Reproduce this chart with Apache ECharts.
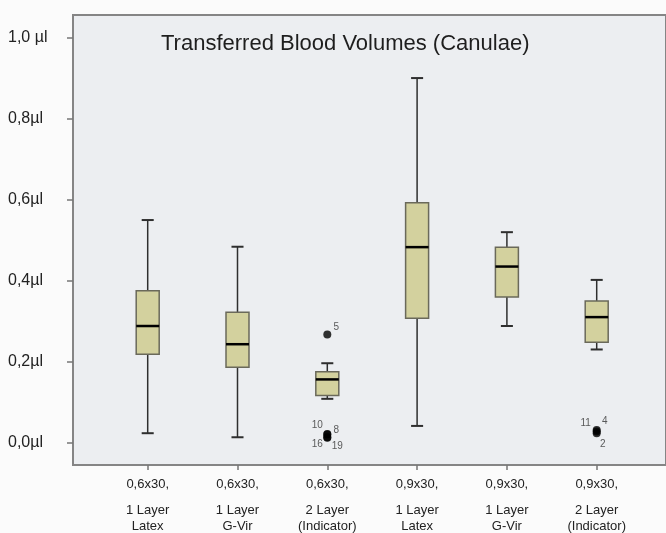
<!DOCTYPE html>
<html>
<head>
<meta charset="utf-8">
<script src="https://cdn.jsdelivr.net/npm/echarts@6/dist/echarts.min.js"></script>
<style>
  html, body { margin: 0; padding: 0; background: #fbfbfb; }
  #main { width: 666px; height: 533px; }
</style>
</head>
<body>
<div id="main"></div>
<script>
// categories (three text lines under each box)
const catLine1 = ['0,6x30,', '0,6x30,', '0,6x30,', '0,9x30,', '0,9x30,', '0,9x30,'];
const catLine2 = ['1 Layer', '1 Layer', '2 Layer', '1 Layer', '1 Layer', '2 Layer'];
const catLine3 = ['Latex', 'G-Vir', '(Indicator)', 'Latex', 'G-Vir', '(Indicator)'];

// box statistics (µl)
const whiskerLow  = [0.023, 0.013, 0.108, 0.041, 0.288, 0.230];
const q1          = [0.218, 0.186, 0.116, 0.307, 0.360, 0.248];
const median      = [0.288, 0.243, 0.156, 0.483, 0.435, 0.310];
const q3          = [0.375, 0.322, 0.175, 0.593, 0.483, 0.350];
const whiskerHigh = [0.550, 0.484, 0.196, 0.901, 0.520, 0.402];

// outliers
const outlierCat = [2, 2, 2, 2, 2, 5, 5, 5];
const outlierVal = [0.267, 0.021, 0.020, 0.013, 0.012, 0.031, 0.027, 0.023];
const outlierId  = ['5', '10', '8', '16', '19', '11', '4', '2'];

// y ticks
const yTicks = [0, 0.2, 0.4, 0.6, 0.8, 1.0];
const yTickLabels = ['0,0µl', '0,2µl', '0,4µl', '0,6µl', '0,8µl', '1,0 µl'];

// where each outlier number sits next to its dot
const idOffset = {
  '5': [9, -7], '10': [-10, -9], '8': [9, -4], '16': [-10, 7], '19': [10, 9],
  '11': [-11, -7], '4': [8, -10], '2': [6, 11]
};

const yMin = -0.0556, yMax = 1.0569;
const font = '"Liberation Sans", Arial, sans-serif';

const boxData = catLine1.map(function (c, i) {
  return [i, whiskerLow[i], q1[i], median[i], q3[i], whiskerHigh[i]];
});

const outlierData = outlierVal.map(function (v, i) {
  const off = idOffset[outlierId[i]];
  return {
    value: [outlierCat[i], v],
    name: outlierId[i],
    label: { offset: off }
  };
});

function renderBox(params, api) {
  const idx = api.value(0);
  const band = api.size([1, 0])[0];
  const hw = band * 0.128;
  const cw = band * 0.067;
  const pLow = api.coord([idx, api.value(1)]);
  const pQ1 = api.coord([idx, api.value(2)]);
  const pMed = api.coord([idx, api.value(3)]);
  const pQ3 = api.coord([idx, api.value(4)]);
  const pHigh = api.coord([idx, api.value(5)]);
  const x = pQ1[0];
  const wStyle = { stroke: '#2e2e2e', lineWidth: 1.5 };
  return {
    type: 'group',
    children: [
      { type: 'line', shape: { x1: x, y1: pHigh[1], x2: x, y2: pQ3[1] }, style: wStyle },
      { type: 'line', shape: { x1: x, y1: pQ1[1], x2: x, y2: pLow[1] }, style: wStyle },
      { type: 'line', shape: { x1: x - cw, y1: pHigh[1], x2: x + cw, y2: pHigh[1] }, style: { stroke: '#2e2e2e', lineWidth: 2 } },
      { type: 'line', shape: { x1: x - cw, y1: pLow[1], x2: x + cw, y2: pLow[1] }, style: { stroke: '#2e2e2e', lineWidth: 2 } },
      {
        type: 'rect',
        shape: { x: x - hw, y: pQ3[1], width: hw * 2, height: pQ1[1] - pQ3[1] },
        style: { fill: '#d3d19e', stroke: '#6a695a', lineWidth: 1.5 }
      },
      { type: 'line', shape: { x1: x - hw, y1: pMed[1], x2: x + hw, y2: pMed[1] }, style: { stroke: '#000', lineWidth: 2.5 } }
    ]
  };
}

const chart = echarts.init(document.getElementById('main'), null, { renderer: 'canvas' });

const option = {
  animation: false,
  backgroundColor: '#fbfbfb',
  title: {
    text: 'Transferred Blood Volumes (Canulae)',
    left: 156,
    top: 28,
    textStyle: { fontFamily: font, fontSize: 22, fontWeight: 'normal', color: '#1e1e1e' }
  },
  grid: [
    {
      left: 73, right: -4, top: 15, bottom: 68,
      show: true, backgroundColor: '#eceef1', borderColor: '#858585', borderWidth: 2
    },
    { left: 102.8, width: 538.8, top: 15, bottom: 68, show: false }
  ],
  xAxis: [
    { gridIndex: 0, type: 'value', show: false, min: 0, max: 1 },
    {
      gridIndex: 1,
      type: 'category',
      data: catLine1,
      boundaryGap: true,
      axisLine: { show: false, onZero: false },
      axisTick: { show: true, alignWithLabel: true, length: 5, lineStyle: { color: '#777', width: 1.5 } },
      axisLabel: {
        margin: 1,
        interval: 0,
        formatter: function (v, i) {
          return '{a|' + catLine1[i] + '}\n{b|' + catLine2[i] + '}\n{b|' + catLine3[i] + '}';
        },
        rich: {
          a: { fontFamily: font, fontSize: 13, color: '#222', lineHeight: 36 },
          b: { fontFamily: font, fontSize: 13, color: '#222', lineHeight: 16 }
        }
      }
    }
  ],
  yAxis: [
    {
      gridIndex: 0,
      type: 'value',
      min: yMin,
      max: yMax,
      splitLine: { show: false },
      axisLine: { show: false },
      axisTick: { show: true, length: 6, customValues: yTicks, lineStyle: { color: '#777', width: 1.5 } },
      axisLabel: {
        customValues: yTicks,
        margin: 65,
        align: 'left',
        fontFamily: font,
        fontSize: 16,
        color: '#222',
        formatter: function (v) {
          const k = yTicks.findIndex(function (t) { return Math.abs(t - v) < 1e-6; });
          return k >= 0 ? yTickLabels[k] : '';
        }
      }
    },
    { gridIndex: 1, type: 'value', min: yMin, max: yMax, show: false }
  ],
  series: [
    {
      type: 'custom',
      xAxisIndex: 1,
      yAxisIndex: 1,
      renderItem: renderBox,
      encode: { x: 0, y: [1, 2, 3, 4, 5] },
      data: boxData,
      z: 3
    },
    {
      type: 'scatter',
      xAxisIndex: 1,
      yAxisIndex: 1,
      symbolSize: 8,
      itemStyle: { color: '#000' },
      label: {
        show: true,
        position: 'inside',
        formatter: '{b}',
        fontFamily: font,
        fontSize: 10,
        color: '#333'
      },
      data: outlierData,
      z: 4
    }
  ]
};

chart.setOption(option);
</script>
</body>
</html>
